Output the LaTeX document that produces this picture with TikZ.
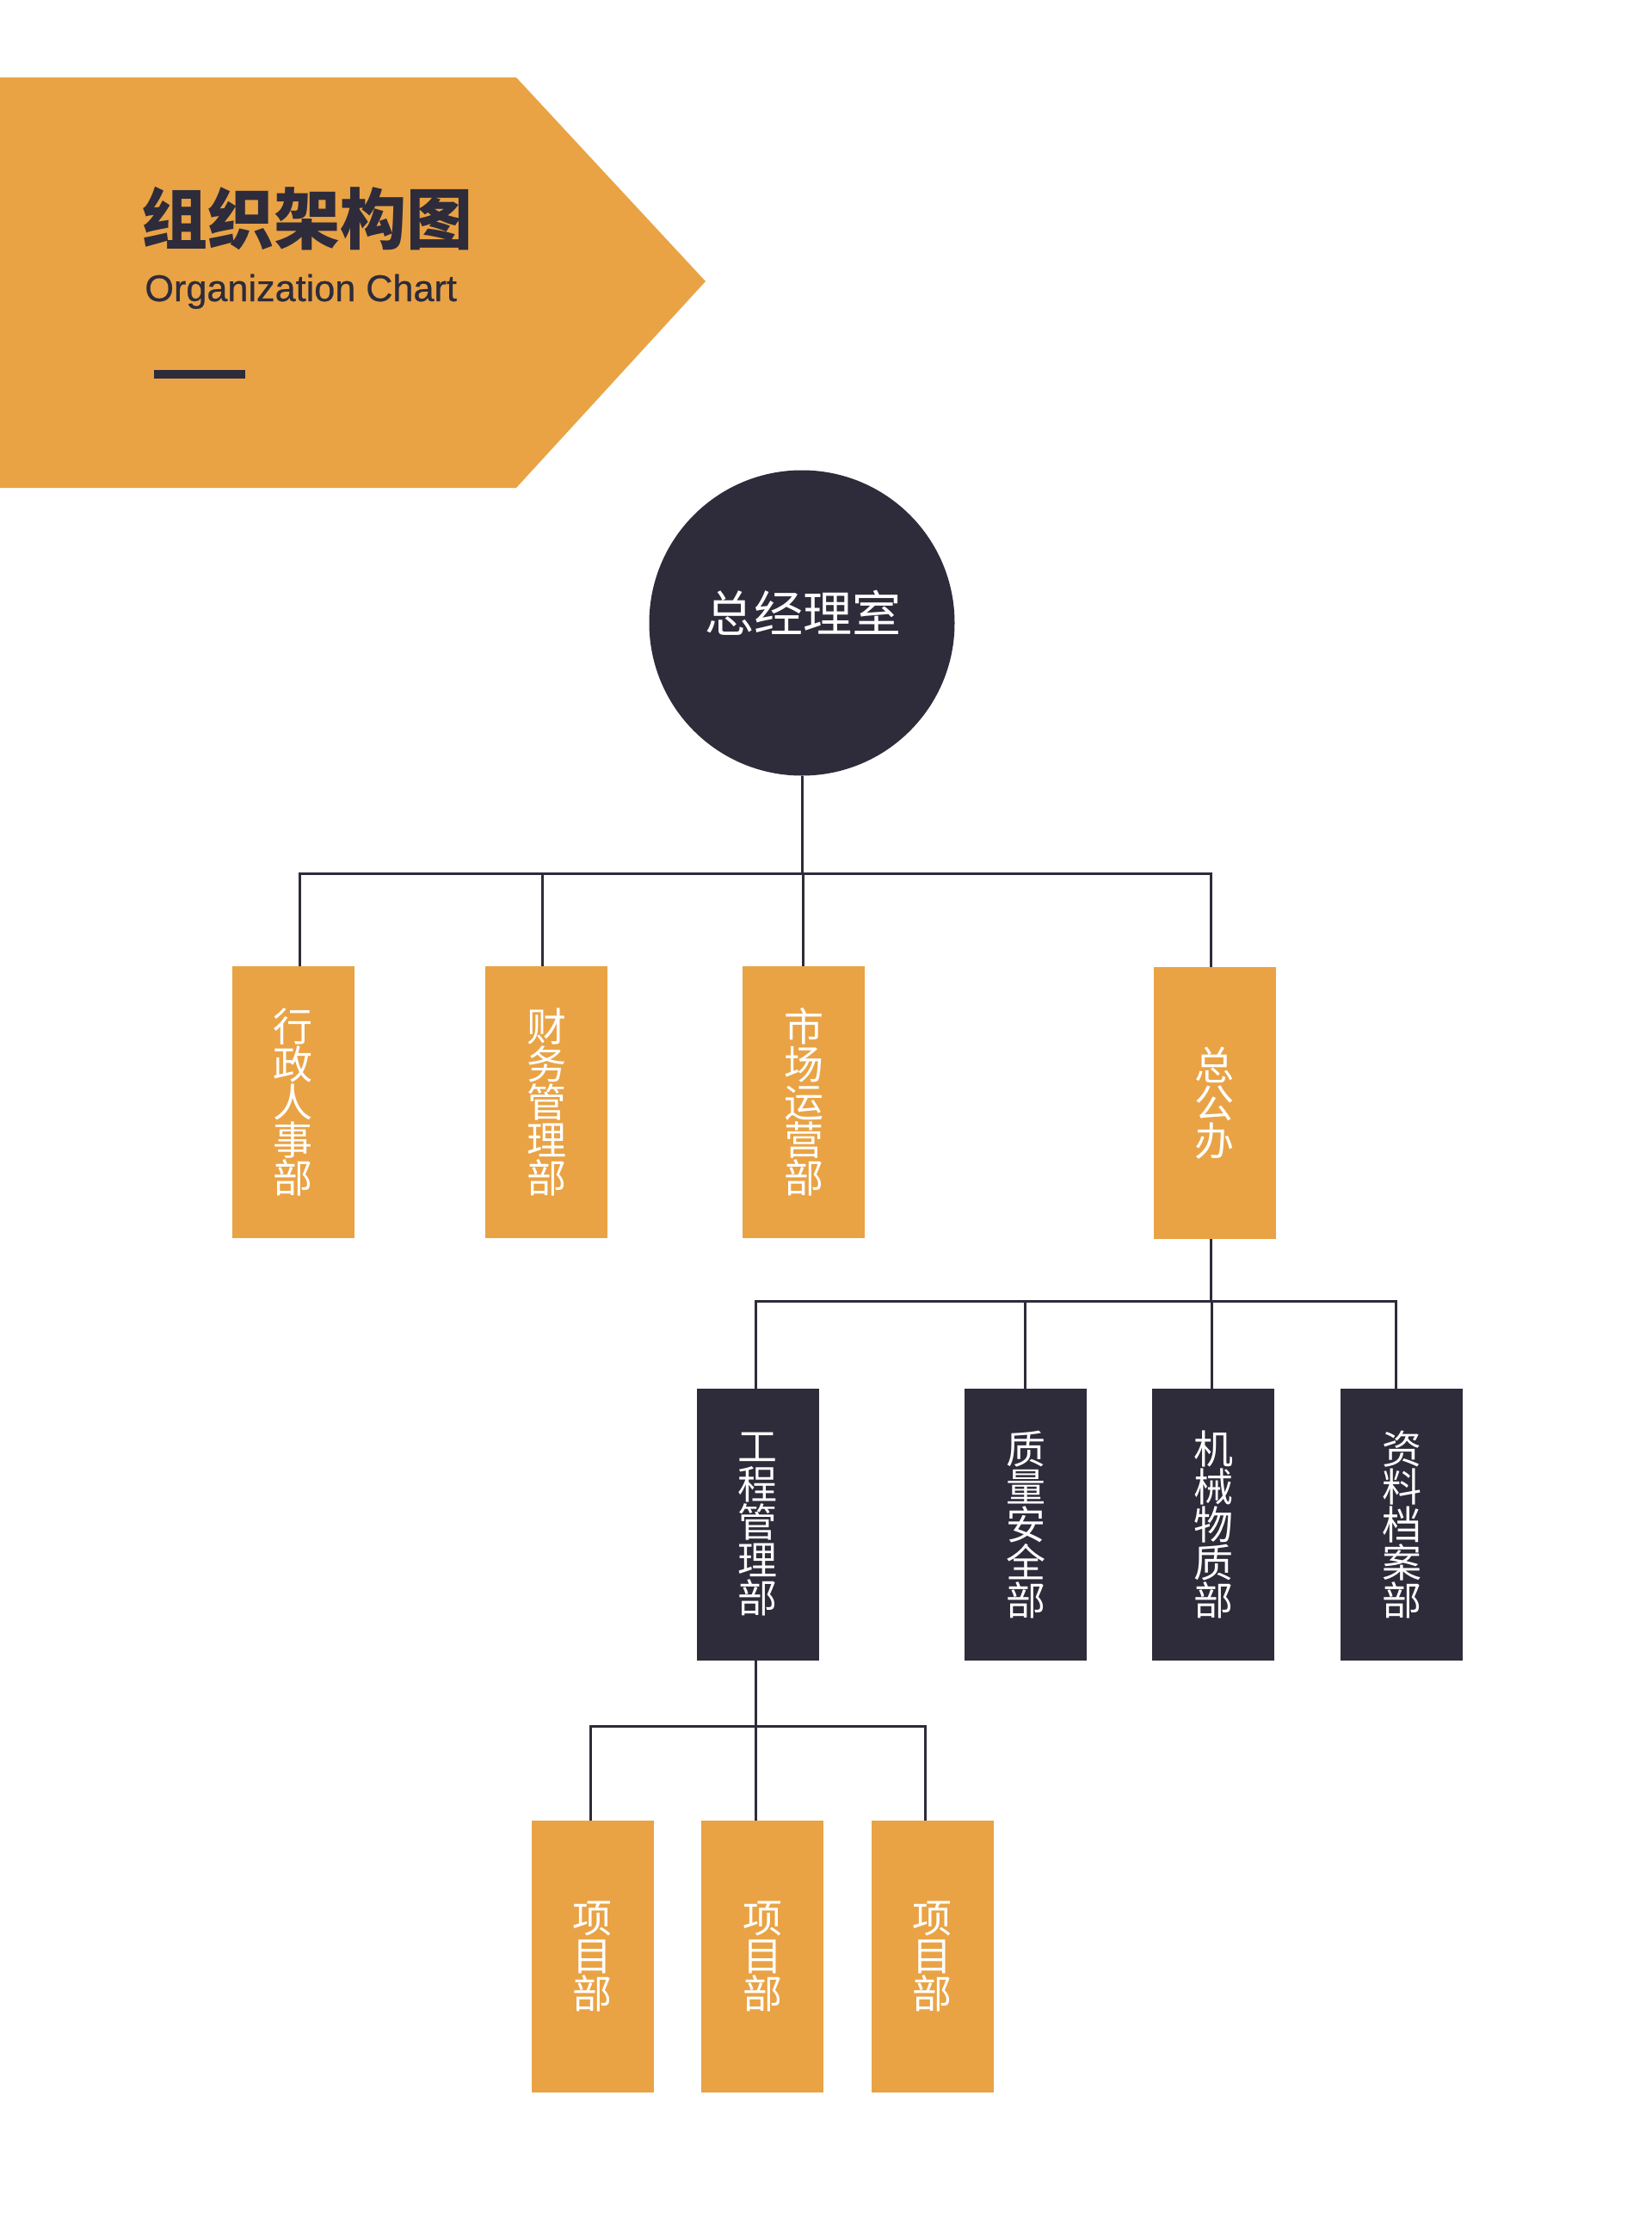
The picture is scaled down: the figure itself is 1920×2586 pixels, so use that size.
\documentclass[tikz,border=0pt]{standalone}
\usepackage{fontspec}
\setmainfont{Liberation Sans}
\newfontfamily\subfont[FakeBold=0.6]{Liberation Sans}
\newfontfamily\cjk{Noto Sans CJK SC}
\definecolor{orangec}{HTML}{E9A345}
\definecolor{darkc}{HTML}{2E2B3A}
\tikzset{
  obox/.style={fill=orangec, minimum width=71pt, minimum height=158pt, inner sep=0pt,
    text=white, font=\cjk\fontsize{23}{22}\selectfont, align=center},
  dbox/.style={obox, fill=darkc},
  conn/.style={draw=darkc, line width=1.5pt},
}
\begin{document}
\begin{tikzpicture}[x=0.5pt,y=-0.5pt]
\useasboundingbox (0,0) rectangle (1920,2586);
% header banner
\fill[orangec] (0,90) -- (600,90) -- (820,327) -- (600,567) -- (0,567) -- cycle;
\node[anchor=base west, inner sep=0pt, text=darkc, font=\cjk\bfseries\fontsize{38.5}{40}\selectfont] (title) at (164,283) {组织架构图};
\node[anchor=base west, inner sep=0pt, text=darkc, font=\subfont\fontsize{21.6}{24}\selectfont] (subtitle) at (168,350) {Organization Chart};
\fill[darkc] (179,430) rectangle (285,440);
% top circle
\node[circle, fill=darkc, minimum size=177.5pt, inner sep=0pt] (ceo) at (932,724) {};
\node[text=white, inner sep=0pt, font=\cjk\fontsize{28.5}{30}\selectfont] (ceotext) at (933,712) {总经理室};
% level 1
\node[obox] (a1) at (340.5,1281) {行\\政\\人\\事\\部};
\node[obox] (a2) at (635,1281) {财\\务\\管\\理\\部};
\node[obox] (a3) at (934,1281) {市\\场\\运\\营\\部};
\node[obox] (a4) at (1411.5,1282) {总\\公\\办};
% level 2
\node[dbox] (b1) at (880.5,1772) {工\\程\\管\\理\\部};
\node[dbox] (b2) at (1192,1772) {质\\量\\安\\全\\部};
\node[dbox] (b3) at (1410,1772) {机\\械\\物\\质\\部};
\node[dbox] (b4) at (1629,1772) {资\\料\\档\\案\\部};
% level 3
\node[obox] (c1) at (688.5,2274) {项\\目\\部};
\node[obox] (c2) at (886,2274) {项\\目\\部};
\node[obox] (c3) at (1083.5,2274) {项\\目\\部};
% connector junctions
\coordinate (j0) at (932,1015);
\coordinate (ja1) at (348,1015);
\coordinate (ja2) at (630,1015);
\coordinate (ja3) at (933,1015);
\coordinate (ja4) at (1407,1015);
\coordinate (k0) at (1407,1512);
\coordinate (jb1) at (878,1512);
\coordinate (jb2) at (1191.5,1512);
\coordinate (jb3) at (1408,1512);
\coordinate (jb4) at (1622.5,1512);
\coordinate (m0) at (878,2006);
\coordinate (jc1) at (686,2006);
\coordinate (jc2) at (878,2006);
\coordinate (jc3) at (1075,2006);
% connectors level 1
\draw[conn] (ceo.south) -- (j0);
\draw[conn] (ja1 |- a1.north) -- (ja1) -- (ja4) -- (ja4 |- a4.north);
\draw[conn] (ja2) -- (ja2 |- a2.north);
\draw[conn] (ja3) -- (ja3 |- a3.north);
% connectors level 2
\draw[conn] (k0 |- a4.south) -- (k0);
\draw[conn] (jb1 |- b1.north) -- (jb1) -- (jb4) -- (jb4 |- b4.north);
\draw[conn] (jb2) -- (jb2 |- b2.north);
\draw[conn] (jb3) -- (jb3 |- b3.north);
% connectors level 3
\draw[conn] (m0 |- b1.south) -- (m0);
\draw[conn] (jc1 |- c1.north) -- (jc1) -- (jc3) -- (jc3 |- c3.north);
\draw[conn] (jc2) -- (jc2 |- c2.north);
\end{tikzpicture}
\end{document}
